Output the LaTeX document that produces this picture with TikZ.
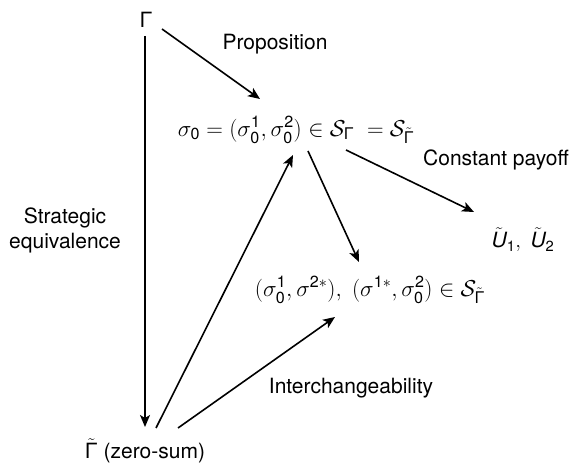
\documentclass[tikz,border=0pt]{standalone}
\usepackage{fix-cm}
\usepackage{amsmath}
\usepackage{fontspec}
\setmainfont{TeX Gyre Heros}
\setsansfont{TeX Gyre Heros}
\usetikzlibrary{arrows.meta}
\newcommand{\Gsf}{\text{\textup{Γ}}}
\newcommand{\dz}{\mathsf{0}}
\newcommand{\da}{\mathsf{1}}
\newcommand{\db}{\mathsf{2}}
\tikzset{
  lbl/.style={font=\fontsize{21}{25}\selectfont, inner sep=0pt, align=center},
  mth/.style={font=\fontsize{23}{27}\selectfont, inner sep=0pt},
  arr/.style={line width=1.6pt, -{Stealth[length=12pt,width=10pt,inset=3pt]}}
}
\begin{document}
\begin{tikzpicture}[x=1pt,y=-1pt]
\useasboundingbox (0,0) rectangle (571,465);
\node[lbl] (G) at (146,20) {Γ};
\node[mth] (S0) at (296,130) {$\sigma_\dz=(\sigma_\dz^\da,\sigma_\dz^\db)\in\mathcal{S}_{\Gsf}\;=\mathcal{S}_{\tilde{\Gsf}}$};
\node[lbl] (U) at (523,240) {$\tilde{\mathit{U}}_\da,\ \tilde{\mathit{U}}_\db$};
\node[mth] (S1) at (370,290) {$(\sigma_\dz^\da,\sigma^{\db*}),\ (\sigma^{\da*},\sigma_\dz^\db)\in\mathcal{S}_{\tilde{\Gsf}}$};
\node[lbl] (Gt) at (145,451) {$\tilde{\Gsf}$ (zero-sum)};
\node[lbl] (Lp) at (275,44) {Proposition};
\node[lbl] (Lc) at (496,160) {Constant payoff};
\node[lbl] (Li) at (351,388) {Interchangeability};
\node[lbl] (Ls) at (65,230) {Strategic\\equivalence};
\draw[arr] ([shift={(16,9)}]G.center) -- ([shift={(-36,-31)}]S0.center);
\draw[arr] ([shift={(-1,16)}]G.center) -- ([shift={(0,-24)}]Gt.center);
\draw[arr] ([shift={(50,20)}]S0.center) -- ([shift={(-49,-28)}]U.center);
\draw[arr] ([shift={(12,21)}]S0.center) -- ([shift={(-11,-28)}]S1.center);
\draw[arr] ([shift={(11,-23)}]Gt.center) -- ([shift={(-3,25)}]S0.center);
\draw[arr] ([shift={(33,-23)}]Gt.center) -- ([shift={(-35,27)}]S1.center);
\end{tikzpicture}
\end{document}
